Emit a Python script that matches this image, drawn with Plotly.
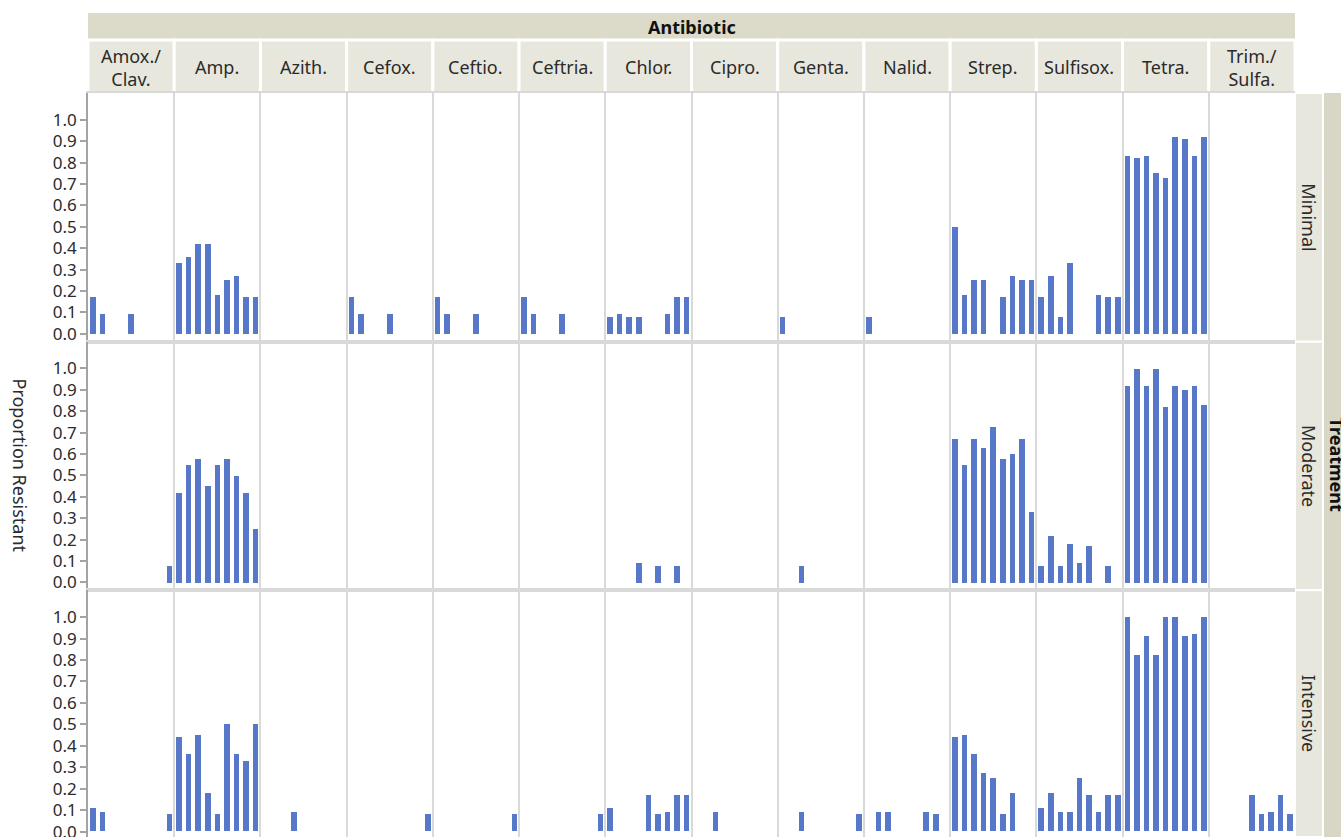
import plotly.graph_objects as go

# ---------------- data ----------------
antibiotics = ["Amox./<br>Clav.", "Amp.", "Azith.", "Cefox.", "Ceftio.", "Ceftria.",
               "Chlor.", "Cipro.", "Genta.", "Nalid.", "Strep.", "Sulfisox.",
               "Tetra.", "Trim./<br>Sulfa."]
treatments = ["Minimal", "Moderate", "Intensive"]
periods = [1, 2, 3, 4, 5, 6, 7, 8, 9]
y_ticks = [0.0, 0.1, 0.2, 0.3, 0.4, 0.5, 0.6, 0.7, 0.8, 0.9, 1.0]
y_ticklabels = ["0.0", "0.1", "0.2", "0.3", "0.4", "0.5", "0.6", "0.7", "0.8", "0.9", "1.0"]

# one list of 9 period values per antibiotic (same order as `antibiotics`)
minimal = [
    [0.17, 0.09, 0, 0, 0.09, 0, 0, 0, 0],                       # Amox./Clav.
    [0.33, 0.36, 0.42, 0.42, 0.18, 0.25, 0.27, 0.17, 0.17],     # Amp.
    [0, 0, 0, 0, 0, 0, 0, 0, 0],                                # Azith.
    [0.17, 0.09, 0, 0, 0.09, 0, 0, 0, 0],                       # Cefox.
    [0.17, 0.09, 0, 0, 0.09, 0, 0, 0, 0],                       # Ceftio.
    [0.17, 0.09, 0, 0, 0.09, 0, 0, 0, 0],                       # Ceftria.
    [0.08, 0.09, 0.08, 0.08, 0, 0, 0.09, 0.17, 0.17],           # Chlor.
    [0, 0, 0, 0, 0, 0, 0, 0, 0],                                # Cipro.
    [0.08, 0, 0, 0, 0, 0, 0, 0, 0],                             # Genta.
    [0.08, 0, 0, 0, 0, 0, 0, 0, 0],                             # Nalid.
    [0.50, 0.18, 0.25, 0.25, 0, 0.17, 0.27, 0.25, 0.25],        # Strep.
    [0.17, 0.27, 0.08, 0.33, 0, 0, 0.18, 0.17, 0.17],           # Sulfisox.
    [0.83, 0.82, 0.83, 0.75, 0.73, 0.92, 0.91, 0.83, 0.92],     # Tetra.
    [0, 0, 0, 0, 0, 0, 0, 0, 0],                                # Trim./Sulfa.
]
moderate = [
    [0, 0, 0, 0, 0, 0, 0, 0, 0.08],
    [0.42, 0.55, 0.58, 0.45, 0.55, 0.58, 0.50, 0.42, 0.25],
    [0, 0, 0, 0, 0, 0, 0, 0, 0],
    [0, 0, 0, 0, 0, 0, 0, 0, 0],
    [0, 0, 0, 0, 0, 0, 0, 0, 0],
    [0, 0, 0, 0, 0, 0, 0, 0, 0],
    [0, 0, 0, 0.09, 0, 0.08, 0, 0.08, 0],
    [0, 0, 0, 0, 0, 0, 0, 0, 0],
    [0, 0, 0.08, 0, 0, 0, 0, 0, 0],
    [0, 0, 0, 0, 0, 0, 0, 0, 0],
    [0.67, 0.55, 0.67, 0.63, 0.73, 0.58, 0.60, 0.67, 0.33],
    [0.08, 0.22, 0.08, 0.18, 0.09, 0.17, 0, 0.08, 0],
    [0.92, 1.00, 0.92, 1.00, 0.82, 0.92, 0.90, 0.92, 0.83],
    [0, 0, 0, 0, 0, 0, 0, 0, 0],
]
intensive = [
    [0.11, 0.09, 0, 0, 0, 0, 0, 0, 0.08],
    [0.44, 0.36, 0.45, 0.18, 0.08, 0.50, 0.36, 0.33, 0.50],
    [0, 0, 0, 0.09, 0, 0, 0, 0, 0],
    [0, 0, 0, 0, 0, 0, 0, 0, 0.08],
    [0, 0, 0, 0, 0, 0, 0, 0, 0.08],
    [0, 0, 0, 0, 0, 0, 0, 0, 0.08],
    [0.11, 0, 0, 0, 0.17, 0.08, 0.09, 0.17, 0.17],
    [0, 0, 0.09, 0, 0, 0, 0, 0, 0],
    [0, 0, 0.09, 0, 0, 0, 0, 0, 0.08],
    [0, 0.09, 0.09, 0, 0, 0, 0.09, 0.08, 0],
    [0.44, 0.45, 0.36, 0.27, 0.25, 0.08, 0.18, 0, 0],
    [0.11, 0.18, 0.09, 0.09, 0.25, 0.17, 0.09, 0.17, 0.17],
    [1.00, 0.82, 0.91, 0.82, 1.00, 1.00, 0.91, 0.92, 1.00],
    [0, 0, 0, 0, 0.17, 0.08, 0.09, 0.17, 0.08],
]
row_values = [minimal, moderate, intensive]

# ---------------- layout geometry ----------------
# the captured page is ~843px tall and fitted into 837px, so vertical
# positions are laid out on an 843px page
S = 843 / 837
W, H = 1341, 843
ML, MR, MT, MB = 88, W - 1295, 92 * S, 0
plot_w = W - ML - MR
plot_h = H - MT - MB


def py(Y):  # target picture row -> paper y
    return (H - MB - Y * S) / plot_h


def px(X):  # target picture column -> paper x
    return (X - ML) / plot_w


row_pix = [(92, 341), (341, 590), (590, 837)]
y_ranges = [[-0.037, 1.125], [-0.037, 1.125], [-0.025, 1.125]]

BAR = "#5778c8"
GRID = "#d9d9d9"
AXIS = "#a3a3a3"
TXT = "#2b2b2b"
HDR_DARK = "#dcdac8"
HDR_LIGHT = "#e8e7dd"
FONT = "Noto Sans, Open Sans, sans-serif"

n_ab = len(antibiotics)
n_p = len(periods)

fig = go.Figure()
layout_axes = {}
for r, vals in enumerate(row_values):
    sfx = "" if r == 0 else str(r + 1)
    xs, ys = [], []
    for ci in range(n_ab):
        for si in range(n_p):
            xs.append(ci * n_p + si + 0.5)
            ys.append(vals[ci][si])
    fig.add_trace(go.Bar(x=xs, y=ys, width=0.58, marker=dict(color=BAR, line=dict(width=0)),
                         xaxis="x" + sfx, yaxis="y" + sfx, showlegend=False,
                         name=treatments[r]))
    y0, y1 = row_pix[r]
    layout_axes["xaxis" + sfx] = dict(
        domain=[0, 1], anchor="y" + sfx, range=[0, n_ab * n_p],
        tick0=0, dtick=n_p, showgrid=True, gridcolor=GRID, gridwidth=1.5,
        showticklabels=False, ticks="", zeroline=False,
        showline=True, mirror=True, linecolor=GRID, linewidth=1.5, fixedrange=True)
    layout_axes["yaxis" + sfx] = dict(
        domain=[max(0, py(y1)), min(1, py(y0))], anchor="x" + sfx, range=y_ranges[r],
        tickvals=y_ticks, ticktext=y_ticklabels, ticks="outside", ticklen=6,
        tickcolor=AXIS, tickwidth=1.5, showline=True, linecolor=AXIS, linewidth=1.5,
        showgrid=False, zeroline=False, tickfont=dict(size=17, color=TXT, family=FONT),
        ticklabeloverflow="allow", fixedrange=True)

shapes = []
annotations = []


def ann(text, x, y, size=18, color=TXT, angle=0):
    annotations.append(dict(text=text, xref="paper", yref="paper", x=x, y=y,
                            xanchor="center", yanchor="middle", textangle=angle,
                            showarrow=False, font=dict(size=size, color=color, family=FONT)))


# top header: "Antibiotic" band
shapes.append(dict(type="rect", xref="paper", yref="paper", x0=0, x1=1,
                   y0=py(39), y1=py(12), fillcolor=HDR_DARK, line=dict(width=0), layer="below"))
ann("<b>Antibiotic</b>", 0.5, py(26), color="#111")
# column header cells
for ci, name in enumerate(antibiotics):
    shapes.append(dict(type="rect", xref="paper", yref="paper", x0=ci / n_ab, x1=(ci + 1) / n_ab,
                       y0=py(92), y1=py(39), fillcolor=HDR_LIGHT,
                       line=dict(width=3, color="white"), layer="below"))
    ann(name, (ci + 0.5) / n_ab, py(66))

# right strips: row labels + Treatment band
shapes.append(dict(type="rect", xref="paper", yref="paper", x0=px(1323), x1=px(1360),
                   y0=0, y1=py(92), fillcolor="#d8d6c4", line=dict(width=0), layer="below"))
for r, t in enumerate(treatments):
    y0, y1 = row_pix[r]
    shapes.append(dict(type="rect", xref="paper", yref="paper", x0=1, x1=px(1323),
                       y0=max(0, py(y1)), y1=py(y0), fillcolor=HDR_LIGHT,
                       line=dict(width=2, color="white"), layer="below"))
    ann(t, px(1309), py((y0 + y1) / 2), angle=90)
ann("<b>Treatment</b>", px(1337), py(465), color="#111", angle=90)

# y axis title
ann("Proportion Resistant", px(20), py(465), angle=90)

fig.update_layout(
    width=W, height=H, margin=dict(l=ML, r=MR, t=MT, b=MB, pad=0),
    paper_bgcolor="white", plot_bgcolor="white", bargap=0,
    shapes=shapes, annotations=annotations, showlegend=False,
    font=dict(family=FONT, color=TXT))
fig.update_layout(**layout_axes)

# no page margin, no overflow: the figure fills the window
fig.write_html("out.html",
               config={"displayModeBar": False},
               post_script="document.documentElement.style.overflow='hidden';"
                           "document.documentElement.style.height='843px';"
                           "document.body.style.margin='0';"
                           "document.body.style.height='843px';"
                           "document.body.style.overflow='hidden';")
